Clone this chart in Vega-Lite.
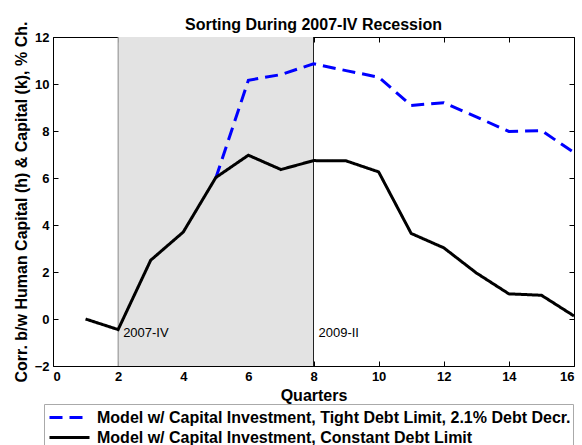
{
  "$schema": "https://vega.github.io/schema/vega-lite/v6.json",
  "width": 521,
  "height": 329,
  "autosize": {"type": "none"},
  "padding": {"left": 53, "top": 37, "right": 8, "bottom": 79},
  "background": "white",
  "config": {
    "font": "Liberation Sans",
    "view": {"stroke": "black", "strokeWidth": 1},
    "axis": {
      "domain": false,
      "grid": false,
      "tickSize": -5,
      "tickColor": "black",
      "labelFont": "Liberation Sans",
      "labelFontSize": 13,
      "labelFontWeight": "bold",
      "labelColor": "black",
      "labelPadding": 9,
      "titleFont": "Liberation Sans",
      "titleFontSize": 16,
      "titleFontWeight": "bold",
      "titleColor": "black"
    }
  },
  "title": {
    "text": "Sorting During 2007-IV Recession",
    "fontSize": 16,
    "fontWeight": "bold",
    "font": "Liberation Sans",
    "color": "black",
    "offset": -12
  },
  "datasets": {
    "lines": [
      {"quarter": 5, "value": 6.0, "series": "Model w/ Capital Investment, Tight Debt Limit, 2.1% Debt Decr."},
      {"quarter": 6, "value": 10.16, "series": "Model w/ Capital Investment, Tight Debt Limit, 2.1% Debt Decr."},
      {"quarter": 7, "value": 10.4, "series": "Model w/ Capital Investment, Tight Debt Limit, 2.1% Debt Decr."},
      {"quarter": 8, "value": 10.86, "series": "Model w/ Capital Investment, Tight Debt Limit, 2.1% Debt Decr."},
      {"quarter": 9, "value": 10.57, "series": "Model w/ Capital Investment, Tight Debt Limit, 2.1% Debt Decr."},
      {"quarter": 10, "value": 10.29, "series": "Model w/ Capital Investment, Tight Debt Limit, 2.1% Debt Decr."},
      {"quarter": 11, "value": 9.09, "series": "Model w/ Capital Investment, Tight Debt Limit, 2.1% Debt Decr."},
      {"quarter": 12, "value": 9.2, "series": "Model w/ Capital Investment, Tight Debt Limit, 2.1% Debt Decr."},
      {"quarter": 13, "value": 8.6, "series": "Model w/ Capital Investment, Tight Debt Limit, 2.1% Debt Decr."},
      {"quarter": 14, "value": 7.98, "series": "Model w/ Capital Investment, Tight Debt Limit, 2.1% Debt Decr."},
      {"quarter": 15, "value": 8.02, "series": "Model w/ Capital Investment, Tight Debt Limit, 2.1% Debt Decr."},
      {"quarter": 16, "value": 7.08, "series": "Model w/ Capital Investment, Tight Debt Limit, 2.1% Debt Decr."},
      {"quarter": 1, "value": 0.0, "series": "Model w/ Capital Investment, Constant Debt Limit"},
      {"quarter": 2, "value": -0.45, "series": "Model w/ Capital Investment, Constant Debt Limit"},
      {"quarter": 3, "value": 2.5, "series": "Model w/ Capital Investment, Constant Debt Limit"},
      {"quarter": 4, "value": 3.7, "series": "Model w/ Capital Investment, Constant Debt Limit"},
      {"quarter": 5, "value": 6.02, "series": "Model w/ Capital Investment, Constant Debt Limit"},
      {"quarter": 6, "value": 6.97, "series": "Model w/ Capital Investment, Constant Debt Limit"},
      {"quarter": 7, "value": 6.36, "series": "Model w/ Capital Investment, Constant Debt Limit"},
      {"quarter": 8, "value": 6.74, "series": "Model w/ Capital Investment, Constant Debt Limit"},
      {"quarter": 9, "value": 6.73, "series": "Model w/ Capital Investment, Constant Debt Limit"},
      {"quarter": 10, "value": 6.26, "series": "Model w/ Capital Investment, Constant Debt Limit"},
      {"quarter": 11, "value": 3.64, "series": "Model w/ Capital Investment, Constant Debt Limit"},
      {"quarter": 12, "value": 3.03, "series": "Model w/ Capital Investment, Constant Debt Limit"},
      {"quarter": 13, "value": 1.96, "series": "Model w/ Capital Investment, Constant Debt Limit"},
      {"quarter": 14, "value": 1.07, "series": "Model w/ Capital Investment, Constant Debt Limit"},
      {"quarter": 15, "value": 1.01, "series": "Model w/ Capital Investment, Constant Debt Limit"},
      {"quarter": 16, "value": 0.13, "series": "Model w/ Capital Investment, Constant Debt Limit"}
    ],
    "labels": [
      {"quarter": 2, "value": -0.6, "label": "2007-IV"},
      {"quarter": 8, "value": -0.6, "label": "2009-II"}
    ]
  },
  "layer": [
    {
      "data": {"values": [{"start": 2, "end": 8}]},
      "mark": {"type": "rect", "color": "#e3e3e3"},
      "encoding": {
        "x": {"field": "start", "type": "quantitative", "scale": {"domain": [0, 16], "nice": false}, "axis": null},
        "x2": {"field": "end"}
      }
    },
    {
      "data": {"values": [{"quarter": 2}]},
      "mark": {"type": "rule", "color": "#8a8a8a", "strokeWidth": 1},
      "encoding": {
        "x": {"field": "quarter", "type": "quantitative", "axis": null}
      }
    },
    {
      "data": {"values": [{"quarter": 8}]},
      "mark": {"type": "rule", "color": "#222222", "strokeWidth": 1},
      "encoding": {
        "x": {"field": "quarter", "type": "quantitative", "axis": null}
      }
    },
    {
      "data": {"name": "lines"},
      "mark": {"type": "line", "strokeWidth": 3},
      "encoding": {
        "x": {
          "field": "quarter", "type": "quantitative",
          "scale": {"domain": [0, 16], "nice": false},
          "axis": {"orient": "bottom", "title": "Quarters", "values": [0, 2, 4, 6, 8, 10, 12, 14, 16], "titlePadding": 4}
        },
        "y": {
          "field": "value", "type": "quantitative",
          "scale": {"domain": [-2, 12], "nice": false, "zero": false},
          "axis": {"orient": "left", "title": "Corr. b/w Human Capital (h) & Capital (k), % Ch.", "values": [-2, 0, 2, 4, 6, 8, 10, 12], "titlePadding": 5}
        },
        "color": {
          "field": "series", "type": "nominal",
          "scale": {
            "domain": ["Model w/ Capital Investment, Tight Debt Limit, 2.1% Debt Decr.", "Model w/ Capital Investment, Constant Debt Limit"],
            "range": ["#0000ff", "#000000"]
          },
          "legend": {
            "orient": "none", "legendX": -9, "legendY": 367, "title": null,
            "symbolType": "M-2,0H2", "symbolSize": 400, "symbolStrokeWidth": 3, "symbolOffset": 12, "labelOffset": 16,
            "rowPadding": 0,
            "labelFont": "Liberation Sans", "labelFontSize": 16, "labelFontWeight": "bold", "labelColor": "black",
            "labelLimit": 0, "fillColor": "white", "strokeColor": "#aaaaaa", "padding": 2
          }
        },
        "strokeDash": {
          "field": "series", "type": "nominal",
          "scale": {
            "domain": ["Model w/ Capital Investment, Tight Debt Limit, 2.1% Debt Decr.", "Model w/ Capital Investment, Constant Debt Limit"],
            "range": [[13, 7], [1, 0]]
          },
          "legend": {
            "orient": "none", "legendX": -9, "legendY": 367, "title": null,
            "symbolType": "M-2,0H2", "symbolSize": 400, "symbolStrokeWidth": 3, "symbolOffset": 12, "labelOffset": 16,
            "rowPadding": 0,
            "labelFont": "Liberation Sans", "labelFontSize": 16, "labelFontWeight": "bold", "labelColor": "black",
            "labelLimit": 0, "fillColor": "white", "strokeColor": "#aaaaaa", "padding": 2
          }
        }
      }
    },
    {
      "data": {"name": "labels"},
      "mark": {"type": "text", "align": "left", "baseline": "middle", "dx": 5, "fontSize": 13, "font": "Liberation Sans", "color": "black"},
      "encoding": {
        "x": {"field": "quarter", "type": "quantitative", "axis": {"orient": "top", "labels": false, "title": null, "values": [0, 2, 4, 6, 8, 10, 12, 14, 16]}},
        "y": {"field": "value", "type": "quantitative", "axis": {"orient": "right", "labels": false, "title": null, "values": [-2, 0, 2, 4, 6, 8, 10, 12]}},
        "text": {"field": "label"}
      }
    }
  ],
  "resolve": {"axis": {"x": "independent", "y": "independent"}}
}
